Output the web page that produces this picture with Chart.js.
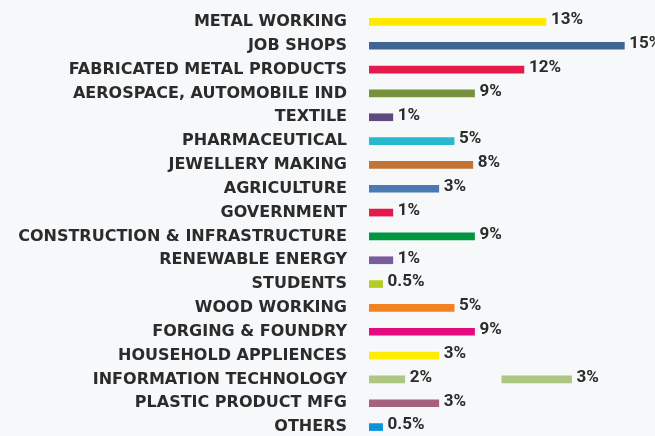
<!DOCTYPE html>
<html>
<head>
<meta charset="utf-8">
<script src="https://cdn.jsdelivr.net/npm/chart.js@4/dist/chart.umd.min.js"></script>
<style>
  html, body { margin: 0; padding: 0; overflow: hidden; background: #f6f8fa; }
  #wrap { width: 655px; height: 440px; position: relative; }
</style>
</head>
<body>
<div id="wrap"><canvas id="barChart"></canvas></div>
<script>
// Dados
const categorias = [
    'METAL WORKING', 'JOB SHOPS', 'FABRICATED METAL PRODUCTS', 'AEROSPACE, AUTOMOBILE IND',
    'TEXTILE', 'PHARMACEUTICAL', 'JEWELLERY MAKING', 'AGRICULTURE', 'GOVERNMENT',
    'CONSTRUCTION & INFRASTRUCTURE', 'RENEWABLE ENERGY', 'STUDENTS', 'WOOD WORKING',
    'FORGING & FOUNDRY', 'HOUSEHOLD APPLIENCES', 'INFORMATION TECHNOLOGY',
    'PLASTIC PRODUCT MFG', 'OTHERS'
];
// comprimento das barras como aparece na figura (não proporcional ao %)
const comprimentos = [10.4, 15, 9.1, 6.2, 1.4, 5.0, 6.1, 4.1, 1.4, 6.2, 1.4, 0.8, 5.0, 6.2, 4.1, 2.1, 4.1, 0.8];
const rotulos = ['13%', '15%', '12%', '9%', '1%', '5%', '8%', '3%', '1%', '9%', '1%', '0.5%', '5%', '9%', '3%', '2%', '3%', '0.5%'];
// segunda barra solta na linha de INFORMATION TECHNOLOGY
const barraExtra = categorias.map(c => c === 'INFORMATION TECHNOLOGY' ? [7.8, 11.9] : null);
const rotulosExtra = categorias.map(c => c === 'INFORMATION TECHNOLOGY' ? '3%' : null);
const cores = [
    '#ffe900', '#3e6594', '#e5194b', '#76923d', '#604a7b', '#26b9d0', '#c37333', '#4a79b3',
    '#e5194b', '#009640', '#7a5c9d', '#b7cc22', '#f08221', '#e40a7e', '#ffed00', '#adc682',
    '#a6617f', '#0b94d8'
];

const fonteEixo = '"DejaVu Sans", sans-serif';
const fonteValor = 'Roboto, sans-serif';

// Plugin que escreve os percentuais no fim de cada barra
const pluginRotulos = {
    id: 'rotulosBarras',
    afterDatasetsDraw(chart) {
        const { ctx } = chart;
        const textos = [rotulos, rotulosExtra];
        ctx.save();
        ctx.font = 'bold 17px ' + fonteValor;
        ctx.fillStyle = '#2b2b2b';
        ctx.textAlign = 'left';
        ctx.textBaseline = 'middle';
        chart.data.datasets.forEach((ds, di) => {
            const meta = chart.getDatasetMeta(di);
            meta.data.forEach((bar, i) => {
                const t = textos[di][i];
                if (!t || ds.data[i] === null) return;
                ctx.fillText(t, bar.x + 5, bar.y - 2);
            });
        });
        ctx.restore();
    }
};

const ctx = document.getElementById('barChart');

new Chart(ctx, {
    type: 'bar',
    data: {
        labels: categorias,
        datasets: [{
            data: comprimentos,
            backgroundColor: cores,
            barThickness: 7,
            grouped: false
        }, {
            data: barraExtra,
            backgroundColor: cores,
            barThickness: 7,
            grouped: false
        }]
    },
    options: {
        indexAxis: 'y',
        responsive: true,
        maintainAspectRatio: false,
        animation: false,
        layout: {
            padding: { top: 10, bottom: 1, left: 0, right: 0 }
        },
        scales: {
            x: {
                display: false,
                min: 0,
                max: 16.8
            },
            y: {
                grid: { display: false, drawTicks: false },
                border: { display: false },
                ticks: {
                    padding: 22,
                    color: '#2b2b2b',
                    font: { family: fonteEixo, weight: 'bold', size: 16 }
                },
                afterFit(scale) {
                    // largura fixa do eixo e sem folga extra em cima/baixo
                    scale.width = 369;
                    scale.paddingTop = 0;
                    scale.paddingBottom = 0;
                }
            }
        },
        plugins: {
            legend: { display: false },
            tooltip: { enabled: false }
        }
    },
    plugins: [pluginRotulos]
});
</script>
</body>
</html>
